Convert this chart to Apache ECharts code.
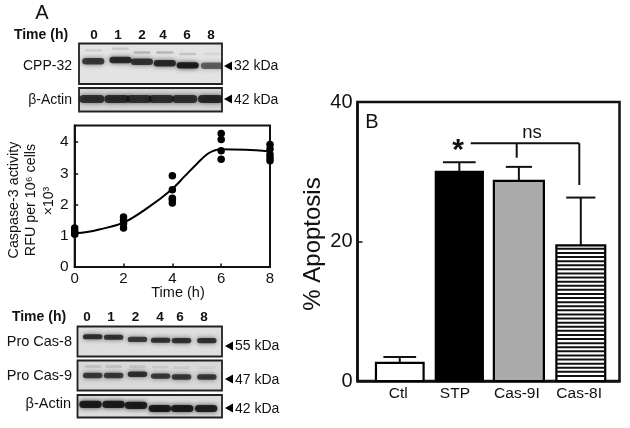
<!DOCTYPE html>
<html><head><meta charset="utf-8">
<style>html,body{margin:0;padding:0;background:#fff}#c{width:630px;height:428px}</style>
<script src="https://cdn.jsdelivr.net/npm/echarts@6/dist/echarts.min.js"></script>
</head><body><div id="c"></div>
<script>
// ---- Panel A: caspase-3 activity
const curveTime = [0, 0.5, 1, 2, 3, 4, 4.5, 5, 5.5, 6, 7, 8];
const curveActivity = [1.08, 1.12, 1.2, 1.42, 1.9, 2.5, 2.9, 3.3, 3.65, 3.77, 3.75, 3.7];
const pointTime = [0,0,0,0, 2,2,2,2, 4,4,4,4,4, 6,6,6,6, 8,8,8,8,8];
const pointActivity = [1.05,1.1,1.15,1.25, 1.25,1.4,1.5,1.6, 2.05,2.15,2.2,2.47,2.92, 3.45,3.72,4.08,4.27, 3.4,3.5,3.6,3.78,3.92];
// ---- Panel B: % apoptosis
const groups = ['Ctl', 'STP', 'Cas-9I', 'Cas-8I'];
const apoptosis = [2.6, 30.0, 28.7, 19.45];
const apoptosisUpper = [3.44, 31.35, 30.7, 26.3];
// ---- Blot band intensities (0..1) by lane
const laneHours = ['0', '1', '2', '4', '6', '8'];
const cpp32Band = [0.72, 0.8, 0.74, 0.8, 0.88, 0.55];
const cpp32Faint = [0.1, 0.12, 0.2, 0.2, 0.14, 0.06];
const actinTopBand = [0.75, 0.78, 0.75, 0.75, 0.75, 0.8];
const cas8Band = [0.78, 0.76, 0.72, 0.76, 0.76, 0.76];
const cas9Band = [0.72, 0.72, 0.78, 0.72, 0.72, 0.72];
const cas9Faint = [0.13, 0.13, 0.1, 0.08, 0.08, 0.06];
const actinLowBand = [0.88, 0.88, 0.88, 0.88, 0.88, 0.86];

// ---- Layout
const FONT = '"Liberation Sans", Arial, sans-serif';
const barLayout = {x:[0.71,1.71,2.71,3.75], w:[0.80,0.79,0.84,0.82], cap:[0.55,0.55,0.44,0.49], lab:[0.683,1.636,2.677,3.723]};
const upperLanes = [0.10,0.29,0.44,0.60,0.76,0.93];
const lowerLanes = [0.105,0.25,0.415,0.575,0.72,0.895];
const blots = [
 {grid:{left:79,top:43.5,width:143,height:40.5}, lanes:upperLanes, bg:'#e3e3e3', rows:[
   {v:cpp32Faint, y:[.17,.13,.22,.22,.26,.26], w:.12, h:.06},
   {v:cpp32Band, y:[.44,.41,.45,.49,.54,.55], w:.155, h:.16}]},
 {grid:{left:79,top:88,width:143,height:23.5}, lanes:[0.09,0.265,0.42,0.575,0.74,0.92], bg:'#d6d6d6', rows:[
   {v:actinTopBand, y:[.47,.47,.47,.47,.47,.47], w:.175, h:.34}]},
 {grid:{left:77.5,top:326.5,width:144.5,height:30}, lanes:lowerLanes, bg:'#dfdfdf', rows:[
   {v:cas8Band, y:[.34,.36,.43,.46,.47,.47], w:.135, h:.17}]},
 {grid:{left:77.5,top:360.5,width:144.5,height:30}, lanes:lowerLanes, bg:'#d9d9d9', rows:[
   {v:cas9Faint, y:[.2,.2,.2,.22,.24,.24], w:.115, h:.08},
   {v:cas9Band, y:[.5,.5,.46,.52,.55,.55], w:.135, h:.18}]},
 {grid:{left:77.5,top:395,width:144.5,height:22.5}, lanes:[0.09,0.25,0.405,0.57,0.725,0.89], bg:'#dcdcdc', rows:[
   {v:actinLowBand, y:[.42,.42,.46,.6,.6,.6], w:.155, h:.32}]}
];

const blotGrid = blots.map(b => Object.assign({show:true, backgroundColor:b.bg, borderColor:'#222', borderWidth:1.8}, b.grid));
const hiddenAxis = {type:'value', min:0, max:1, show:false};
const blotSeries = blots.map((b,i) => {
  const data = [];
  b.rows.forEach(r => r.v.forEach((d,k) => data.push([b.lanes[k], r.y[k], d, r.w, r.h])));
  return {
    type:'custom', xAxisIndex:i+2, yAxisIndex:i+2, silent:true, clip:true, animation:false,
    data,
    renderItem(params, api){
      const p = api.coord([api.value(0), api.value(1)]);
      const sz = api.size([api.value(3), api.value(4)]);
      const c = 'rgba(15,15,15,'+api.value(2)+')';
      return {type:'rect', shape:{x:p[0]-sz[0]/2, y:p[1]-sz[1]/2, width:sz[0], height:sz[1], r:sz[1]/2},
        style:{fill:c, shadowBlur:5, shadowColor:c}};
    }
  };
});

// ---- Text and marks outside of the plotted axes
const txt = (text,x,y,size,opt={}) => ({type:'text', x, y, z:20, rotation:opt.rot||0, silent:true,
  style:{text, font:(opt.bold?'bold ':'')+size+'px '+FONT, fill:'#111', align:opt.align||'center', verticalAlign:'middle'}});
const arrow = (x,y) => ({type:'polygon', z:20, silent:true, shape:{points:[[x,y],[x+8,y-4.5],[x+8,y+4.5]]}, style:{fill:'#000'}});
const seg = (x1,y1,x2,y2) => ({type:'line', z:20, silent:true, shape:{x1,y1,x2,y2}, style:{stroke:'#111', lineWidth:2}});
const upperLabelX = [94,118,142,163,187,211];
const lowerLabelX = [87,111,135.5,160,180,204];
const graphics = [
  txt('A',42,13,20),
  txt('Time (h)',41,35,14,{bold:true}),
  ...laneHours.map((h,i)=>txt(h,upperLabelX[i],35,13.5,{bold:true})),
  txt('CPP-32',72,66,14,{align:'right'}),
  txt('β-Actin',72,100,14,{align:'right'}),
  arrow(224,66), txt('32 kDa',234,66,14,{align:'left'}),
  arrow(224,99), txt('42 kDa',234,100,14,{align:'left'}),
  txt('Caspase-3 activity',14,200,14.3,{rot:Math.PI/2}),
  txt('RFU per 10⁶ cells',31,200,14.3,{rot:Math.PI/2}),
  txt('×10³',49,201,14,{rot:Math.PI/2}),
  txt('Time (h)',178,293,14.5),
  txt('Time (h)',39,317,14,{bold:true}),
  ...laneHours.map((h,i)=>txt(h,lowerLabelX[i],317,13.5,{bold:true})),
  txt('Pro Cas-8',72,342,14.5,{align:'right'}),
  txt('Pro Cas-9',72,376,14.5,{align:'right'}),
  txt('β-Actin',71,404,14.5,{align:'right'}),
  arrow(225,346), txt('55 kDa',235,346,14,{align:'left'}),
  arrow(225,379), txt('47 kDa',235,380,14,{align:'left'}),
  arrow(225,408), txt('42 kDa',235,409,14,{align:'left'}),
  txt('% Apoptosis',313,244,24,{rot:Math.PI/2}),
  txt('B',372,122,20),
  txt('ns',532,133,18.5),
  txt('*',458,151,30,{bold:true}),
  seg(470.7,143.3,579.3,143.3), seg(516.7,143.3,516.7,157.7), seg(579.3,143.3,579.3,185)
];

const chart = echarts.init(document.getElementById('c'), null, {renderer:'canvas'});
const axisText = {color:'#111', fontFamily:FONT};
chart.setOption({
  animation:false,
  backgroundColor:'#fff',
  grid:[
    {left:74.7, top:125.5, width:195.3, height:141.5, show:true, borderColor:'#111', borderWidth:2, backgroundColor:'#fff'},
    {left:357.5, top:102, width:262, height:279, show:true, borderColor:'#111', borderWidth:2.5, backgroundColor:'#fff'},
    ...blotGrid
  ],
  xAxis:[
    {type:'value', gridIndex:0, min:0, max:8, interval:2, splitLine:{show:false},
     axisLine:{onZero:false, lineStyle:{color:'#111', width:2}},
     axisTick:{inside:true, length:3.5, lineStyle:{color:'#111', width:1.5}},
     axisLabel:Object.assign({fontSize:15, margin:4, showMinLabel:true, showMaxLabel:true}, axisText)},
    {type:'value', gridIndex:1, min:0, max:4.4, splitLine:{show:false},
     axisLine:{lineStyle:{color:'#111', width:2.5}}, axisTick:{show:false},
     axisLabel:Object.assign({fontSize:15.5, margin:5, customValues:barLayout.lab,
       formatter:(v)=>groups[barLayout.lab.indexOf(v)]}, axisText)},
    ...blots.map((b,i)=>Object.assign({gridIndex:i+2}, hiddenAxis))
  ],
  yAxis:[
    {type:'value', gridIndex:0, min:0, max:4.53, interval:1, splitLine:{show:false},
     axisLine:{lineStyle:{color:'#111', width:2}},
     axisTick:{inside:true, length:3.5, lineStyle:{color:'#111', width:1.5}},
     axisLabel:Object.assign({fontSize:15.5, margin:6, showMaxLabel:false}, axisText)},
    {type:'value', gridIndex:1, min:0, max:40, interval:20, splitLine:{show:false},
     axisLine:{lineStyle:{color:'#111', width:2.5}},
     axisTick:{inside:true, length:5, lineStyle:{color:'#111', width:1.5}},
     axisLabel:Object.assign({fontSize:20, margin:5}, axisText)},
    ...blots.map((b,i)=>Object.assign({gridIndex:i+2, inverse:true}, hiddenAxis))
  ],
  series:[
    {type:'line', xAxisIndex:0, yAxisIndex:0, smooth:0.35, showSymbol:false, z:3,
     lineStyle:{color:'#000', width:2}, data:curveTime.map((t,i)=>[t,curveActivity[i]])},
    {type:'scatter', xAxisIndex:0, yAxisIndex:0, clip:false, symbolSize:7.5, z:4,
     itemStyle:{color:'#000', opacity:1}, data:pointTime.map((t,i)=>[t,pointActivity[i]])},
    {type:'custom', xAxisIndex:1, yAxisIndex:1, z:3, clip:false,
     data:groups.map((g,i)=>[barLayout.x[i], apoptosis[i], apoptosisUpper[i], barLayout.w[i], barLayout.cap[i], i]),
     renderItem(params, api){
       const x = api.value(0), w = api.value(3), cw = api.value(4), idx = api.value(5);
       const tl = api.coord([x-w/2, api.value(1)]), br = api.coord([x+w/2, 0]);
       const up = api.coord([x, api.value(2)]);
       const rw = br[0]-tl[0], rh = br[1]-tl[1];
       const capW = api.size([cw,0])[0];
       const fills = ['#fff','#000','#ababab','#fff'];
       const line = (x1,y1,x2,y2,lw) => ({type:'line', shape:{x1,y1,x2,y2}, style:{stroke:'#111', lineWidth:lw}});
       const children = [
         line(up[0],up[1],up[0],tl[1],2),
         line(up[0]-capW/2,up[1],up[0]+capW/2,up[1],2),
         {type:'rect', shape:{x:tl[0],y:tl[1],width:rw,height:rh}, style:{fill:fills[idx], stroke:'#000', lineWidth:2.2}}
       ];
       if(idx===3){
         for(let y=tl[1]+3.5; y<br[1]-1; y+=4.1) children.push(line(tl[0],y,br[0],y,2));
       }
       return {type:'group', children};
     }},
    ...blotSeries
  ],
  graphic:{elements:graphics}
});
</script></body></html>
